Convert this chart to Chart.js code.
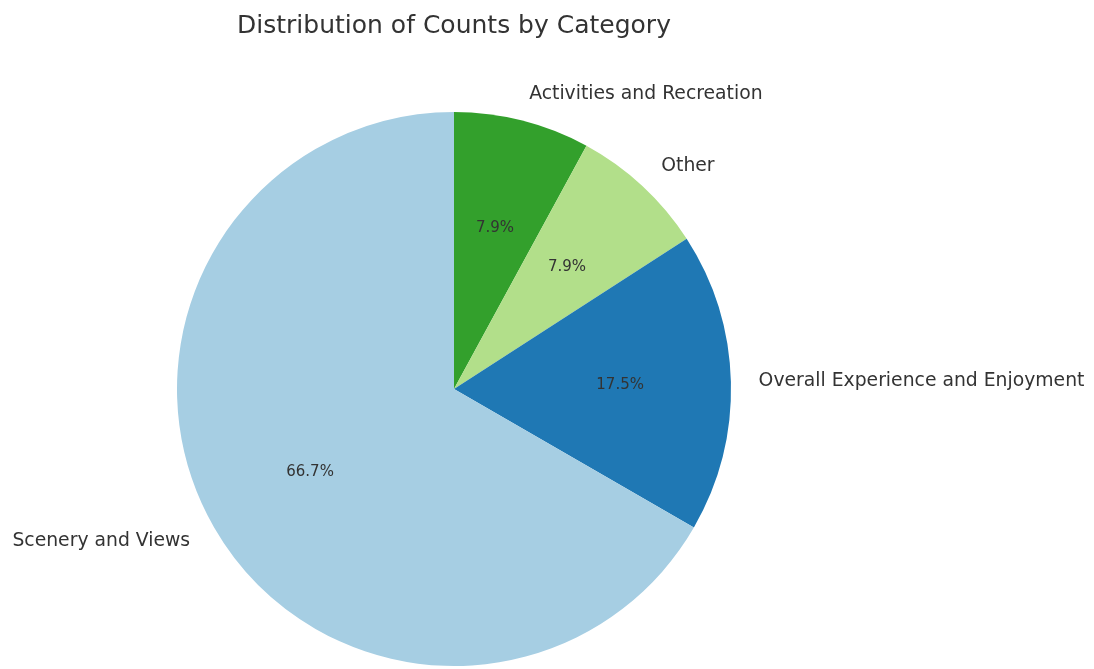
<!DOCTYPE html>
<html lang="en">
<head>
    <meta charset="UTF-8">
    <title>Distribution of Counts by Category</title>
    <script src="https://cdn.jsdelivr.net/npm/chart.js"></script>
    <style>
        body {
            margin: 0;
            background-color: #fff;
        }
        #wrap {
            position: relative;
            width: 1094px;
            height: 669px;
        }
    </style>
</head>
<body>
    <div id="wrap">
        <canvas id="pieChart"></canvas>
    </div>

    <script>
        // slices listed clockwise from 12 o'clock
        const categories = ['Activities and Recreation', 'Other', 'Overall Experience and Enjoyment', 'Scenery and Views'];
        const counts = [5, 5, 11, 42];
        const sliceColors = ['#33a02c', '#b2df8a', '#1f78b4', '#a6cee3'];
        const chartTitle = 'Distribution of Counts by Category';

        const total = counts.reduce((a, b) => a + b, 0);

        const sliceLabels = {
            id: 'sliceLabels',
            afterDraw(chart) {
                const ctx = chart.ctx;
                const arcs = chart.getDatasetMeta(0).data;
                ctx.save();
                ctx.fillStyle = '#333';
                arcs.forEach((arc, i) => {
                    const mid = (arc.startAngle + arc.endAngle) / 2;
                    const r = arc.outerRadius;
                    const cx = arc.x, cy = arc.y;
                    const cos = Math.cos(mid), sin = Math.sin(mid);

                    // category name just outside the rim
                    ctx.font = '18.8px "DejaVu Sans"';
                    ctx.textBaseline = 'middle';
                    ctx.textAlign = cos >= 0 ? 'left' : 'right';
                    ctx.fillText(categories[i], cx + cos * r * 1.1, cy + sin * r * 1.1);

                    // percentage inside the slice
                    ctx.font = '15px "DejaVu Sans"';
                    ctx.textAlign = 'center';
                    const pct = (counts[i] / total * 100).toFixed(1) + '%';
                    ctx.fillText(pct, cx + cos * r * 0.6, cy + sin * r * 0.6);
                });

                ctx.font = '25px "DejaVu Sans"';
                ctx.textAlign = 'center';
                ctx.textBaseline = 'middle';
                ctx.fillText(chartTitle, arcs[0].x, 26);
                ctx.restore();
            }
        };

        const ctx = document.getElementById('pieChart').getContext('2d');
        new Chart(ctx, {
            type: 'pie',
            data: {
                labels: categories,
                datasets: [{
                    data: counts,
                    backgroundColor: sliceColors,
                    borderWidth: 0
                }]
            },
            options: {
                responsive: true,
                maintainAspectRatio: false,
                animation: false,
                layout: {
                    padding: { top: 112, bottom: 3, left: 177, right: 363 }
                },
                plugins: {
                    legend: { display: false },
                    tooltip: { enabled: false },
                    title: { display: false }
                }
            },
            plugins: [sliceLabels]
        });
    </script>
</body>
</html>
